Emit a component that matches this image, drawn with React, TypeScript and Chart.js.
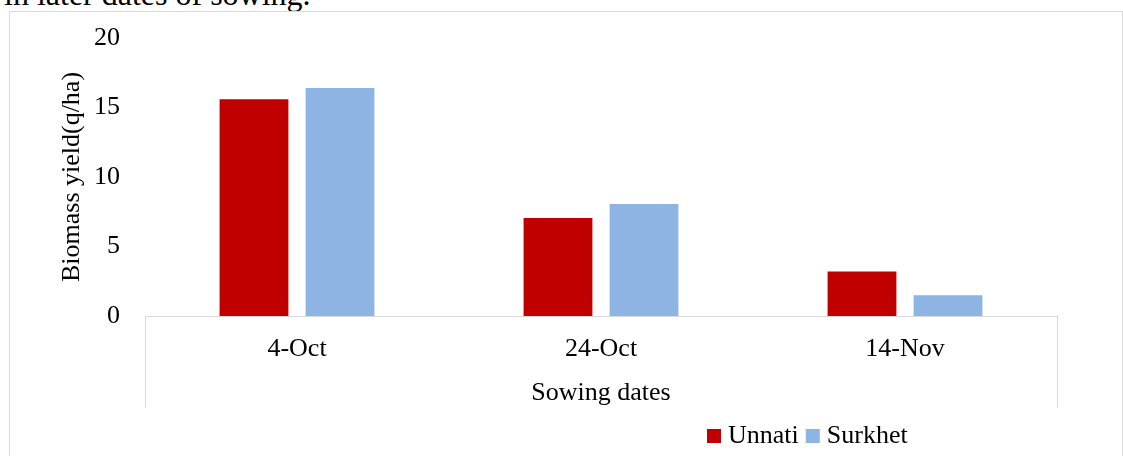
import React, { useEffect, useRef } from "react";
import { Chart, registerables } from "chart.js";

Chart.register(...registerables);

const categories = ["4-Oct", "24-Oct", "14-Nov"];
const unnati = [15.6, 7.05, 3.2];
const surkhet = [16.4, 8.05, 1.5];
const seriesNames = ["Unnati", "Surkhet"];
const yTitle = "Biomass yield(q/ha)";
const xTitle = "Sowing dates";
const FONT = "'Liberation Serif', 'Times New Roman', serif";

const separatorPlugin = {
  id: "separators",
  afterDraw(chart: any) {
    const ctx = chart.ctx;
    const xs = chart.scales.x;
    ctx.save();
    ctx.strokeStyle = "#d9d9d9";
    ctx.lineWidth = 1;
    ctx.beginPath();
    [xs.left, xs.right].forEach((x: number) => {
      const px = Math.round(x) + 0.5;
      ctx.moveTo(px, xs.top);
      ctx.lineTo(px, xs.top + 92);
    });
    ctx.stroke();
    ctx.restore();
  },
};

const legendPlugin = {
  id: "customLegend",
  afterDraw(chart: any) {
    const ctx = chart.ctx;
    ctx.save();
    ctx.font = `26px ${FONT}`;
    ctx.textBaseline = "middle";
    ctx.textAlign = "left";
    let x = 707;
    const yMid = 436;
    chart.data.datasets.forEach((ds: any) => {
      ctx.fillStyle = ds.backgroundColor;
      ctx.fillRect(x, yMid - 7, 14, 14);
      ctx.fillStyle = "#000";
      ctx.fillText(ds.label, x + 21, yMid);
      x += 21 + ctx.measureText(ds.label).width + 7;
    });
    ctx.restore();
  },
};

export default function App() {
  const ref = useRef<HTMLCanvasElement | null>(null);

  useEffect(() => {
    if (!ref.current) return;
    const chart = new Chart(ref.current, {
      type: "bar",
      data: {
        labels: categories,
        datasets: [
          {
            label: seriesNames[0],
            data: unnati,
            backgroundColor: "#C00000",
            barPercentage: 0.8,
            categoryPercentage: 0.566,
          },
          {
            label: seriesNames[1],
            data: surkhet,
            backgroundColor: "#8EB4E3",
            barPercentage: 0.8,
            categoryPercentage: 0.566,
          },
        ],
      },
      options: {
        responsive: false,
        animation: false,
        devicePixelRatio: 1,
        layout: { padding: { top: 38, right: 66, left: 0, bottom: 0 } },
        plugins: {
          legend: { display: false },
          tooltip: { enabled: false },
        },
        scales: {
          x: {
            grid: { display: true, drawOnChartArea: false, drawTicks: false, color: "rgba(0,0,0,0)" },
            border: { display: true, color: "#d9d9d9", width: 1 },
            ticks: { color: "#000", font: { family: FONT, size: 26 }, padding: 18 },
            title: {
              display: true,
              text: xTitle,
              color: "#000",
              font: { family: FONT, size: 26 },
              padding: { top: 0, bottom: 47 },
            },
            afterFit(scale: any) {
              scale.height = 140;
            },
          },
          y: {
            min: 0,
            max: 20,
            grid: { display: false },
            border: { display: false },
            ticks: { stepSize: 5, color: "#000", font: { family: FONT, size: 26 }, padding: 17 },
            title: {
              display: true,
              text: yTitle,
              color: "#000",
              font: { family: FONT, size: 26 },
              padding: { top: 57, bottom: 0 },
            },
            afterFit(scale: any) {
              scale.width = 145;
            },
          },
        },
      },
      plugins: [separatorPlugin, legendPlugin],
    });
    return () => chart.destroy();
  }, []);

  return (
    <div
      style={{
        position: "absolute",
        left: 0,
        top: 0,
        width: 1123,
        height: 456,
        overflow: "hidden",
        background: "#fff",
      }}
    >
      <div
        style={{
          position: "absolute",
          left: 4,
          top: -22,
          fontFamily: FONT,
          fontSize: 32,
          lineHeight: "32px",
          color: "#000",
          whiteSpace: "nowrap",
        }}
      >
        in later dates of sowing.
      </div>
      <div
        style={{
          position: "absolute",
          left: 9,
          top: 11,
          width: 1114,
          height: 480,
          borderLeft: "1px solid #d9d9d9",
          borderTop: "1px solid #d9d9d9",
          borderRight: "1px solid #d9d9d9",
          boxSizing: "border-box",
        }}
      />
      <canvas
        ref={ref}
        width={1123}
        height={456}
        style={{ position: "absolute", left: 0, top: 0, width: 1123, height: 456 }}
      />
    </div>
  );
}
